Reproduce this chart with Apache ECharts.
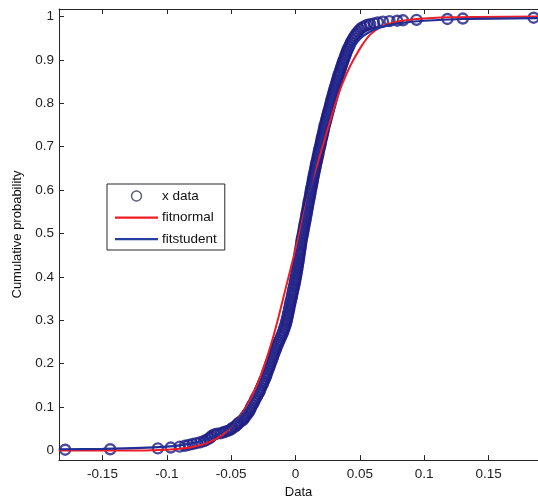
<!DOCTYPE html>
<html>
<head>
<meta charset="utf-8">
<script src="https://cdn.jsdelivr.net/npm/echarts@6/dist/echarts.min.js"></script>
<style>html,body{margin:0;padding:0;background:#fff;}#c{width:538px;height:504px;}</style>
</head>
<body>
<div id="c"></div>
<script>
// Tick labels
var xTicks = [-0.15, -0.1, -0.05, 0, 0.05, 0.1, 0.15];
var yTicks = [0, 0.1, 0.2, 0.3, 0.4, 0.5, 0.6, 0.7, 0.8, 0.9, 1];

var dataX = [-0.179,-0.144,-0.107,-0.097,-0.090,-0.086,-0.083,-0.080,-0.077,-0.074,-0.071,-0.069,-0.067,-0.066,-0.065,-0.063,-0.061,-0.058,-0.056,-0.054,-0.052,-0.050,-0.049,-0.047,-0.046,-0.045,-0.044,-0.0425,-0.041,-0.040,-0.039,-0.038,-0.037,-0.036,-0.0352,-0.0345,-0.0335,-0.0325,-0.0318,-0.031,-0.030,-0.029,-0.028,-0.0275,-0.0268,-0.026,-0.0252,-0.0245,-0.0238,-0.023,-0.0225,-0.022,-0.0213,-0.0206,-0.0200,-0.0195,-0.0188,-0.0182,-0.0176,-0.0170,-0.0164,-0.0157,-0.0151,-0.0145,-0.0138,-0.0130,-0.0122,-0.0115,-0.0108,-0.0100,-0.0094,-0.0088,-0.0082,-0.0076,-0.0072,-0.0068,-0.0064,-0.0060,-0.0057,-0.0054,-0.0050,-0.0047,-0.0043,-0.0040,-0.0036,-0.0032,-0.0028,-0.0025,-0.0021,-0.0018,-0.0014,-0.0010,-0.0007,-0.0003,0.0000,0.0003,0.0006,0.0009,0.0012,0.0015,0.0017,0.0020,0.0023,0.0025,0.0028,0.0030,0.0033,0.0035,0.0038,0.0040,0.0043,0.0045,0.0048,0.0051,0.0054,0.0058,0.0061,0.0064,0.0067,0.0070,0.0073,0.0077,0.0080,0.0083,0.0086,0.0089,0.0092,0.0095,0.0098,0.0101,0.0104,0.0108,0.0111,0.0114,0.0117,0.0120,0.0123,0.0127,0.0130,0.0133,0.0136,0.0140,0.0143,0.0146,0.0150,0.0153,0.0157,0.0160,0.0164,0.0168,0.0171,0.0175,0.0179,0.0182,0.0186,0.0190,0.0194,0.0198,0.0201,0.0205,0.0209,0.0213,0.0217,0.0220,0.0224,0.0228,0.0233,0.0237,0.0241,0.0246,0.0250,0.0255,0.0259,0.0264,0.0268,0.0273,0.0277,0.0281,0.0286,0.0290,0.0295,0.0300,0.0305,0.0310,0.0315,0.0320,0.0325,0.0330,0.0335,0.0341,0.0346,0.0352,0.0357,0.0363,0.0369,0.0375,0.0381,0.0387,0.0393,0.0400,0.0407,0.0415,0.0423,0.0430,0.0440,0.0450,0.0460,0.0472,0.0485,0.0500,0.0515,0.0535,0.0555,0.0580,0.0610,0.0640,0.0680,0.0730,0.0790,0.0835,0.0940,0.1180,0.1300,0.1850];
var dataY = [0.002,0.003,0.005,0.007,0.009,0.011,0.013,0.015,0.017,0.019,0.022,0.025,0.028,0.031,0.034,0.037,0.039,0.040,0.042,0.044,0.046,0.049,0.052,0.055,0.058,0.061,0.064,0.067,0.070,0.074,0.078,0.082,0.086,0.090,0.095,0.100,0.105,0.110,0.115,0.120,0.125,0.130,0.135,0.140,0.145,0.150,0.155,0.160,0.165,0.170,0.175,0.180,0.185,0.190,0.195,0.200,0.205,0.210,0.215,0.220,0.225,0.230,0.235,0.240,0.245,0.250,0.255,0.260,0.265,0.270,0.275,0.280,0.285,0.290,0.295,0.300,0.305,0.310,0.315,0.320,0.325,0.330,0.335,0.340,0.345,0.350,0.355,0.360,0.365,0.370,0.375,0.380,0.385,0.390,0.395,0.400,0.405,0.410,0.415,0.420,0.425,0.430,0.435,0.440,0.445,0.450,0.455,0.460,0.465,0.470,0.475,0.480,0.485,0.490,0.495,0.500,0.505,0.510,0.515,0.520,0.525,0.530,0.535,0.540,0.545,0.550,0.555,0.560,0.565,0.570,0.575,0.580,0.585,0.590,0.595,0.600,0.605,0.610,0.615,0.620,0.625,0.630,0.635,0.640,0.645,0.650,0.655,0.660,0.665,0.670,0.675,0.680,0.685,0.690,0.695,0.700,0.705,0.710,0.715,0.720,0.725,0.730,0.735,0.740,0.745,0.750,0.755,0.760,0.765,0.770,0.775,0.780,0.785,0.790,0.795,0.800,0.805,0.810,0.815,0.820,0.825,0.830,0.835,0.840,0.845,0.850,0.855,0.860,0.865,0.870,0.875,0.880,0.885,0.890,0.895,0.900,0.905,0.910,0.915,0.920,0.925,0.930,0.935,0.940,0.945,0.950,0.955,0.960,0.965,0.970,0.974,0.977,0.980,0.982,0.984,0.986,0.988,0.989,0.990,0.991,0.992,0.994,0.995,0.997];

// fitnormal curve
var normX = [-0.184,-0.12,-0.10,-0.09,-0.08,-0.07,-0.06,-0.054,-0.045,-0.038,-0.030,-0.024,-0.018,-0.013,-0.008,-0.002,0.003,0.006,0.012,0.0215,0.028,0.0345,0.040,0.045,0.052,0.058,0.066,0.076,0.094,0.12,0.19];
var normY = [0.0,0.0002,0.002,0.004,0.008,0.016,0.030,0.043,0.072,0.102,0.150,0.198,0.255,0.310,0.370,0.440,0.500,0.541,0.610,0.705,0.770,0.830,0.870,0.900,0.935,0.958,0.975,0.986,0.994,0.998,1.0];

// fitstudent curve
var studX = [-0.184,-0.15,-0.12,-0.10,-0.09,-0.08,-0.07,-0.06,-0.05,-0.04,-0.03,-0.02,-0.01,0.0,0.01,0.02,0.03,0.04,0.05,0.06,0.07,0.08,0.10,0.13,0.19];
var studY = [0.003,0.004,0.006,0.009,0.012,0.017,0.025,0.038,0.056,0.087,0.135,0.210,0.310,0.440,0.585,0.720,0.830,0.905,0.948,0.968,0.978,0.984,0.990,0.994,0.996];

function zip(a, b) { return a.map(function (v, i) { return [v, b[i]]; }); }

var FONT = 'Liberation Sans, Arial, Helvetica, sans-serif';
var AX = '#262626';
var LINE_ICON = 'path://M0,0 M43,10 M0,4 L43,4 L43,6.2 L0,6.2 Z';
var chart = echarts.init(document.getElementById('c'), null, {renderer: 'canvas'});
chart.setOption({
  backgroundColor: '#ffffff',
  animation: false,
  grid: {left: 59, right: 0, top: 9, bottom: 41, containLabel: false},
  legend: {
    orient: 'vertical', left: 107, top: 184,
    backgroundColor: '#fff', borderColor: AX, borderWidth: 1,
    padding: [5, 8, 4, 8], itemWidth: 43, itemHeight: 10, itemGap: 7.5,
    textStyle: {fontFamily: FONT, fontSize: 13.5, color: '#111', padding: [0, 0, 0, -1]},
    data: [
      {name: 'x data', icon: 'circle', itemStyle: {color: 'rgba(0,0,0,0)', borderColor: '#3a3a55', borderWidth: 1.5}},
      {name: 'fitnormal', icon: LINE_ICON, itemStyle: {color: '#ee1c24', borderWidth: 0}},
      {name: 'fitstudent', icon: LINE_ICON, itemStyle: {color: '#2340a0', borderWidth: 0}}
    ]
  },
  xAxis: [{
    type: 'value', min: -0.1838, max: 0.1884, position: 'bottom',
    name: 'Data', nameLocation: 'middle', nameGap: 24,
    nameTextStyle: {fontFamily: FONT, fontSize: 13, color: '#111'},
    axisLine: {show: true, onZero: false, lineStyle: {color: AX, width: 1}},
    axisTick: {show: true, inside: true, length: 5, customValues: xTicks, lineStyle: {color: AX}},
    axisLabel: {show: true, customValues: xTicks, margin: 7, fontFamily: FONT, fontSize: 13.5, color: '#222',
      formatter: function (v) { return String(+v.toFixed(2)); }},
    splitLine: {show: false}
  }, {
    type: 'value', min: -0.1838, max: 0.1884, position: 'top',
    axisLine: {show: true, onZero: false, lineStyle: {color: AX, width: 1}},
    axisTick: {show: true, inside: true, length: 5, customValues: xTicks, lineStyle: {color: AX}},
    axisLabel: {show: false},
    splitLine: {show: false}
  }],
  yAxis: [{
    type: 'value', min: -0.022, max: 1.017, position: 'left',
    name: 'Cumulative probability', nameLocation: 'middle', nameGap: 27, nameRotate: 90,
    nameTextStyle: {fontFamily: FONT, fontSize: 13, color: '#111'},
    axisLine: {show: true, onZero: false, lineStyle: {color: AX, width: 1}},
    axisTick: {show: true, inside: true, length: 5, customValues: yTicks, lineStyle: {color: AX}},
    axisLabel: {show: true, customValues: yTicks, margin: 5, fontFamily: FONT, fontSize: 13.5, color: '#222',
      formatter: function (v) { return String(+v.toFixed(1)); }},
    splitLine: {show: false}
  }],
  series: [{
    name: 'x data', type: 'scatter', xAxisIndex: 0, yAxisIndex: 0,
    data: zip(dataX, dataY), symbol: 'circle', symbolSize: 10,
    itemStyle: {color: 'rgba(0,0,0,0)', borderColor: '#1e1e84', borderWidth: 2.4},
    z: 2
  }, {
    name: 'fitnormal', type: 'line', xAxisIndex: 0, yAxisIndex: 0,
    data: zip(normX, normY), smooth: 0.3, symbol: 'none', showSymbol: false,
    lineStyle: {color: '#ee1c24', width: 2}, itemStyle: {color: '#ee1c24'},
    z: 3
  }, {
    name: 'fitstudent', type: 'line', xAxisIndex: 0, yAxisIndex: 0,
    data: zip(studX, studY), smooth: 0.3, symbol: 'none', showSymbol: false,
    lineStyle: {color: '#1f2f96', width: 2.2}, itemStyle: {color: '#1f2f96'},
    z: 4
  }]
});
</script>
</body>
</html>
